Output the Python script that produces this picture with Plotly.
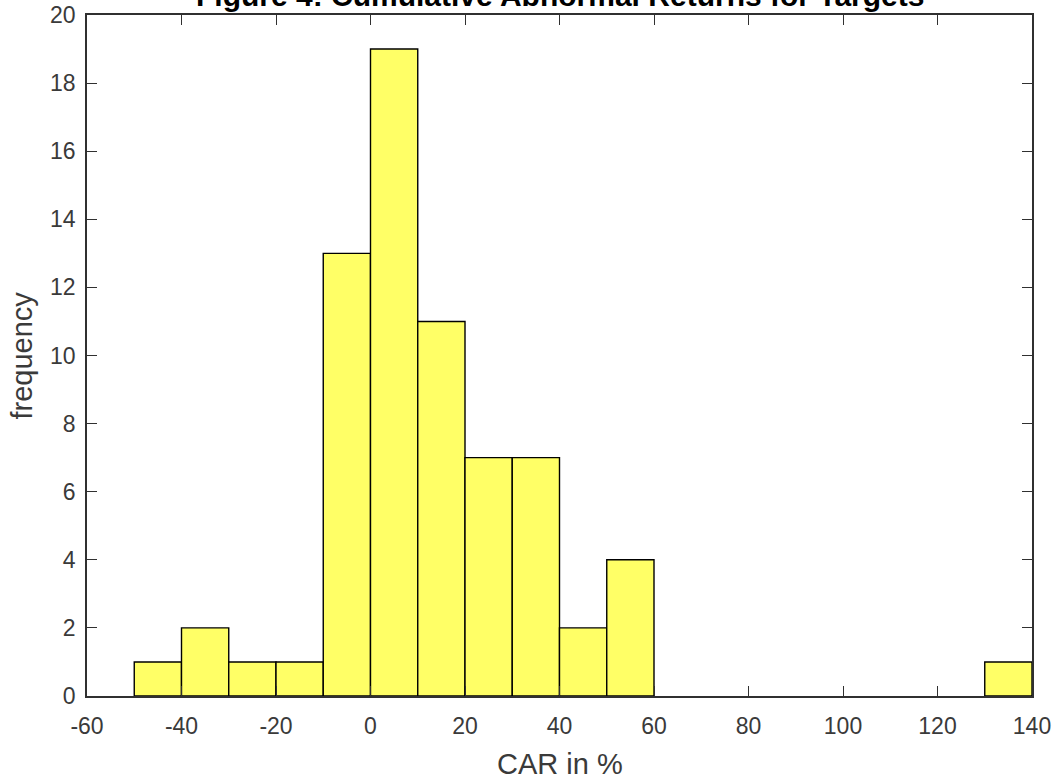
import plotly.graph_objects as go

bin_left = [-50, -40, -30, -20, -10, 0, 10, 20, 30, 40, 50, 130]
bin_width = 10
counts = [1, 2, 1, 1, 13, 19, 11, 7, 7, 2, 4, 1]
x_ticks = [-60, -40, -20, 0, 20, 40, 60, 80, 100, 120, 140]
x_tick_labels = ["-60", "-40", "-20", "0", "20", "40", "60", "80", "100", "120", "140"]
y_ticks = [0, 2, 4, 6, 8, 10, 12, 14, 16, 18, 20]
title_text = "Figure 4: Cumulative Abnormal Returns for Targets"
x_label = "CAR in %"
y_label = "frequency"

centers = [b + bin_width / 2 for b in bin_left]

fig = go.Figure()
fig.add_trace(go.Bar(
    x=centers, y=counts, width=bin_width,
    marker=dict(color="#ffff66", line=dict(color="#000000", width=1.4)),
))

FONT = "Liberation Sans, Arial"
axis_common = dict(
    showline=True, linecolor="#303030", linewidth=1.5, mirror="ticks",
    ticks="inside", ticklen=10, tickwidth=1.2, tickcolor="#303030",
    showgrid=False, zeroline=False, automargin=False,
    tickfont=dict(family=FONT, size=23, color="#3a3a3a"),
)

fig.update_layout(
    width=1057, height=782,
    margin=dict(l=87, r=25, t=15, b=86, autoexpand=False),
    plot_bgcolor="white", paper_bgcolor="white",
    showlegend=False,
    xaxis=dict(range=[-60, 140], tickvals=x_ticks, ticktext=x_tick_labels,
               ticklabelstandoff=9, **axis_common),
    yaxis=dict(range=[0, 20], tickvals=y_ticks, ticklabelstandoff=5,
               **axis_common),
    annotations=[
        dict(text="<b>" + title_text + "</b>", xref="paper", yref="paper",
             x=0.5, y=1, xanchor="center", yanchor="bottom", yshift=1,
             showarrow=False, font=dict(family=FONT, size=30, color="#000000")),
        dict(text=x_label, xref="paper", yref="paper",
             x=0.5, y=0, xanchor="center", yanchor="top", yshift=-50,
             showarrow=False, font=dict(family=FONT, size=29, color="#3a3a3a")),
        dict(text=y_label, xref="paper", yref="paper", textangle=-90,
             x=0, y=0.5, xanchor="center", yanchor="middle", xshift=-66,
             showarrow=False, font=dict(family=FONT, size=29, color="#3a3a3a")),
    ],
)

fig.write_html("out.html", config={"displayModeBar": False},
               post_script="document.body.style.margin='0';")
